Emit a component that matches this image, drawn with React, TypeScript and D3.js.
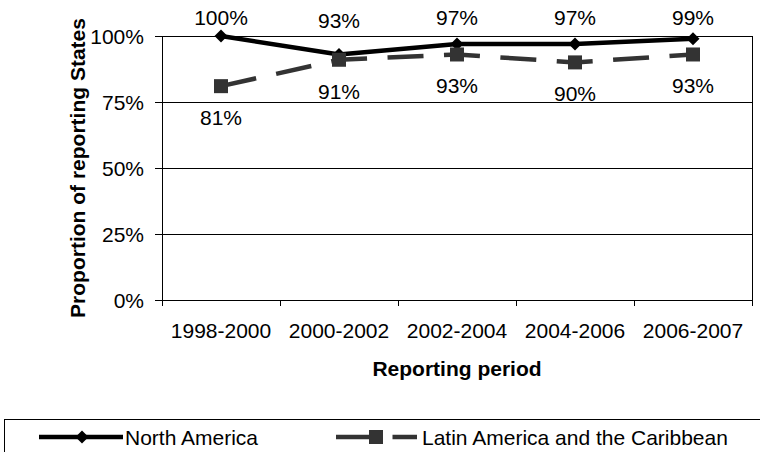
import React from "react";
import * as d3 from "d3";

const categories = ["1998-2000", "2000-2002", "2002-2004", "2004-2006", "2006-2007"];
const northAmerica = [100, 93, 97, 97, 99];
const latinAmerica = [81, 91, 93, 90, 93];
const yTicks = [0, 25, 50, 75, 100];
const seriesNames = ["North America", "Latin America and the Caribbean"];

const W = 760;
const H = 452;
const FONT = "Liberation Sans, Arial, sans-serif";

export default function App() {
  const left = 162;
  const right = 752;
  const top = 36;
  const bottom = 300;

  const x = d3.scaleBand<string>().domain(categories).range([left, right]).paddingInner(0).paddingOuter(0);
  const y = d3.scaleLinear().domain([0, 100]).range([bottom, top]);
  const cx = (c: string) => (x(c) as number) + x.bandwidth() / 2;

  const line = d3
    .line<number>()
    .x((_, i) => cx(categories[i]))
    .y((d) => y(d));

  const boundaries = d3.range(categories.length + 1).map((i) => left + i * x.bandwidth());

  const diamond = (px: number, py: number, r: number) =>
    `M${px},${py - r}L${px + r},${py}L${px},${py + r}L${px - r},${py}Z`;

  const laColor = "#333333";
  const dash = "36,20.5";

  return (
    <svg
      width={W}
      height={H}
      style={{ position: "absolute", left: 0, top: 0, background: "#fff" }}
      fontFamily={FONT}
    >
      <rect x={0} y={0} width={W} height={H} fill="#fff" />
      {/* gridlines */}
      {yTicks.map((t) => (
        <line key={t} x1={left} x2={right} y1={y(t)} y2={y(t)} stroke="#000" strokeWidth={1} shapeRendering="crispEdges" />
      ))}
      {/* right border */}
      <line x1={right} x2={right} y1={top} y2={bottom} stroke="#000" strokeWidth={1} shapeRendering="crispEdges" />
      {/* y axis */}
      <line x1={left} x2={left} y1={top} y2={bottom + 6} stroke="#000" strokeWidth={1} shapeRendering="crispEdges" />
      {yTicks.map((t) => (
        <g key={"yt" + t}>
          <line x1={left - 7} x2={left} y1={y(t)} y2={y(t)} stroke="#000" strokeWidth={1} shapeRendering="crispEdges" />
          <text x={144} y={y(t) + 7.5} textAnchor="end" fontSize={21} fill="#000">
            {t}%
          </text>
        </g>
      ))}
      {/* x ticks */}
      {boundaries.map((b, i) => (
        <line key={"xt" + i} x1={b} x2={b} y1={bottom} y2={bottom + 6} stroke="#000" strokeWidth={1} shapeRendering="crispEdges" />
      ))}
      {categories.map((c) => (
        <text key={c} x={cx(c)} y={338} textAnchor="middle" fontSize={21} fill="#000">
          {c}
        </text>
      ))}
      {/* axis titles */}
      <text x={(left + right) / 2} y={376} textAnchor="middle" fontSize={21} fontWeight="bold" fill="#000">
        Reporting period
      </text>
      <text
        transform={`translate(85,${(top + bottom) / 2}) rotate(-90)`}
        textAnchor="middle"
        fontSize={21}
        fontWeight="bold"
        fill="#000"
      >
        Proportion of reporting States
      </text>

      {/* North America */}
      <path d={line(northAmerica) || ""} fill="none" stroke="#000" strokeWidth={4.5} strokeLinejoin="round" />
      {northAmerica.map((v, i) => (
        <path key={"nad" + i} d={diamond(cx(categories[i]), y(v), 6.5)} fill="#000" />
      ))}
      {/* Latin America */}
      <path d={line(latinAmerica) || ""} fill="none" stroke={laColor} strokeWidth={4.5} strokeDasharray={dash} />
      {latinAmerica.map((v, i) => (
        <rect key={"las" + i} x={cx(categories[i]) - 7} y={y(v) - 7} width={14} height={14} fill={laColor} />
      ))}

      {/* data labels */}
      {northAmerica.map((v, i) => (
        <text key={"nal" + i} x={cx(categories[i])} y={Math.max(y(v) - 26.5, 25)} textAnchor="middle" fontSize={21} fill="#000">
          {v}%
        </text>
      ))}
      {latinAmerica.map((v, i) => (
        <text key={"lal" + i} x={cx(categories[i])} y={y(v) + 39} textAnchor="middle" fontSize={21} fill="#000">
          {v}%
        </text>
      ))}

      {/* legend */}
      <rect x={4.5} y={419.5} width={800} height={100} fill="none" stroke="#000" strokeWidth={1} />
      <line x1={39} x2={123} y1={437} y2={437} stroke="#000" strokeWidth={4.5} />
      <path d={diamond(82, 437, 6.5)} fill="#000" />
      <text x={125} y={445} fontSize={21} fill="#000">
        {seriesNames[0]}
      </text>
      <line x1={336} x2={417} y1={437} y2={437} stroke={laColor} strokeWidth={4.5} strokeDasharray={dash} />
      <rect x={369} y={430} width={14} height={14} fill={laColor} />
      <text x={422} y={445} fontSize={21} fill="#000">
        {seriesNames[1]}
      </text>
    </svg>
  );
}
